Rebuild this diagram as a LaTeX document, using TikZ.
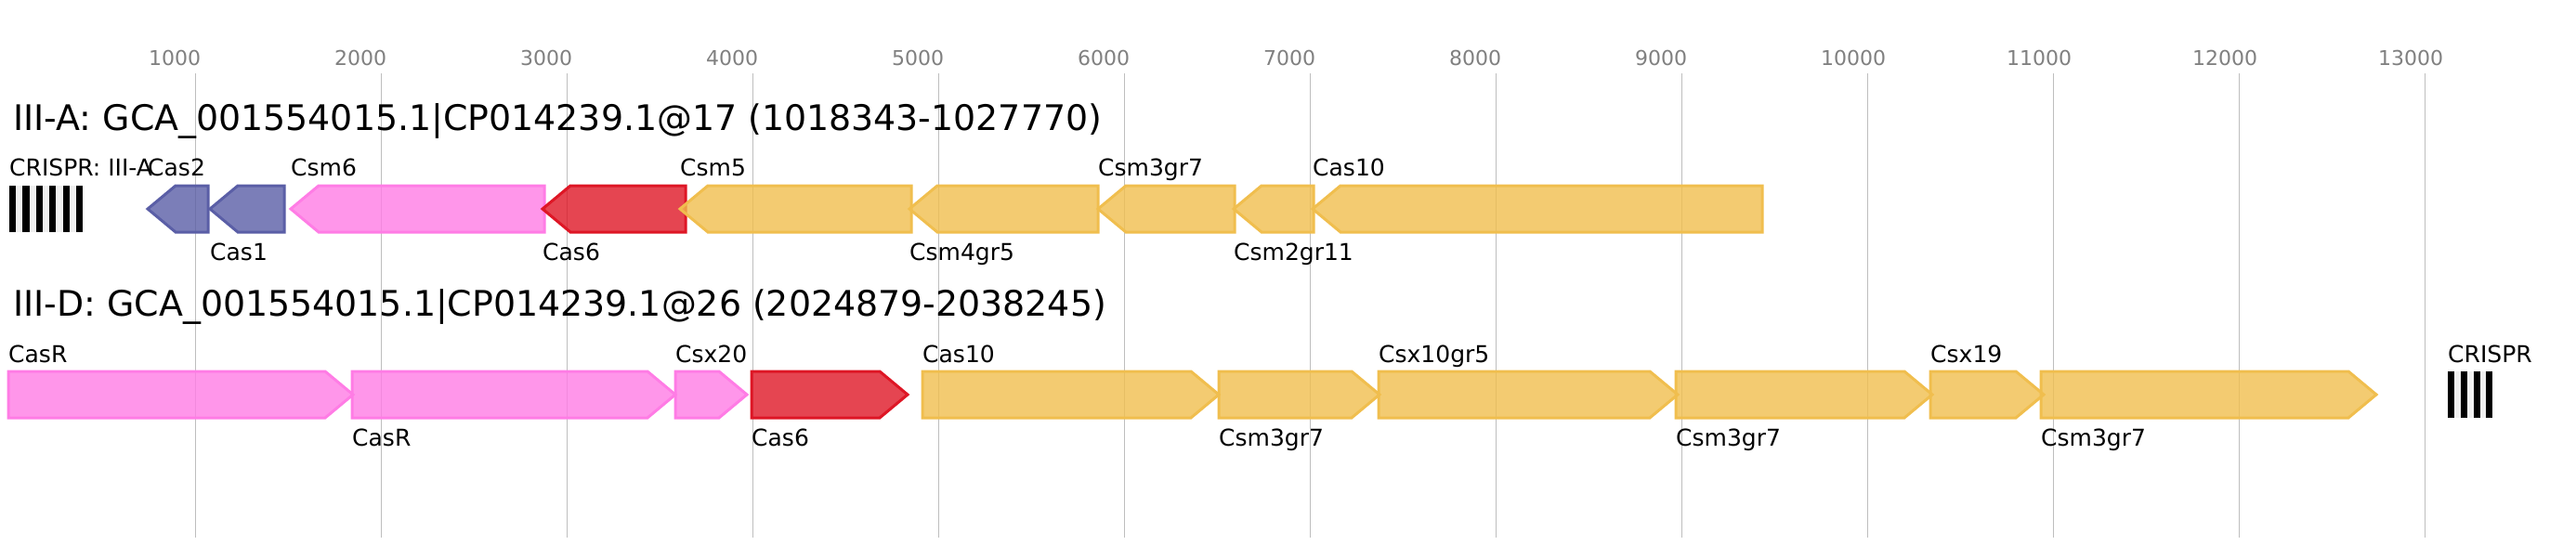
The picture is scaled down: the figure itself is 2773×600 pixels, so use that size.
\documentclass[tikz,border=0pt]{standalone}
\usepackage{fontspec}
\setmainfont{DejaVu Sans}
\definecolor{casblue}{RGB}{90,94,166}
\definecolor{caspink}{RGB}{255,124,229}
\definecolor{casred}{RGB}{222,22,37}
\definecolor{casyel}{RGB}{240,190,78}
\definecolor{gridgray}{RGB}{190,190,190}
\definecolor{tickgray}{RGB}{128,128,128}
\definecolor{spacergray}{RGB}{240,240,240}
\tikzset{
  gene/.style={line width=3pt, fill opacity=0.8, line join=miter},
  genelabel/.style={anchor=base west, inner sep=0pt, font=\fontsize{25}{30}\selectfont},
  locustitle/.style={anchor=base west, inner sep=0pt, font=\fontsize{37.9}{45}\selectfont},
  ticklabel/.style={anchor=base west, inner sep=0pt, text=tickgray, font=\fontsize{22}{26}\selectfont},
  gridline/.style={gridgray, line width=1.8pt},
  repeatbar/.style={fill=black}
}
\begin{document}
\begin{tikzpicture}[x=1pt,y=1pt]
\useasboundingbox (0,0) rectangle (2773,-600);
% scale: 1000 bp = 200 px
\draw [gridline] (210.5,-79) -- (210.5,-579);
\node [ticklabel] (t1000) at (160,-70.7) {1000};
\draw [gridline] (410.5,-79) -- (410.5,-579);
\node [ticklabel] (t2000) at (360,-70.7) {2000};
\draw [gridline] (610.5,-79) -- (610.5,-579);
\node [ticklabel] (t3000) at (560,-70.7) {3000};
\draw [gridline] (810.5,-79) -- (810.5,-579);
\node [ticklabel] (t4000) at (760,-70.7) {4000};
\draw [gridline] (1010.5,-79) -- (1010.5,-579);
\node [ticklabel] (t5000) at (960,-70.7) {5000};
\draw [gridline] (1210.5,-79) -- (1210.5,-579);
\node [ticklabel] (t6000) at (1160,-70.7) {6000};
\draw [gridline] (1410.5,-79) -- (1410.5,-579);
\node [ticklabel] (t7000) at (1360,-70.7) {7000};
\draw [gridline] (1610.5,-79) -- (1610.5,-579);
\node [ticklabel] (t8000) at (1560,-70.7) {8000};
\draw [gridline] (1810.5,-79) -- (1810.5,-579);
\node [ticklabel] (t9000) at (1760,-70.7) {9000};
\draw [gridline] (2010.5,-79) -- (2010.5,-579);
\node [ticklabel] (t10000) at (1960,-70.7) {10000};
\draw [gridline] (2210.5,-79) -- (2210.5,-579);
\node [ticklabel] (t11000) at (2160,-70.7) {11000};
\draw [gridline] (2410.5,-79) -- (2410.5,-579);
\node [ticklabel] (t12000) at (2360,-70.7) {12000};
\draw [gridline] (2610.5,-79) -- (2610.5,-579);
\node [ticklabel] (t13000) at (2560,-70.7) {13000};

% III-A locus
\node [locustitle] (titleA) at (14,-140) {III-A: GCA\_001554015.1|CP014239.1@17 (1018343-1027770)};
\fill [spacergray] (10,-200) rectangle (89.3,-250);
\fill [repeatbar] (10,-200) rectangle (17.2,-250);
\fill [repeatbar] (24.4,-200) rectangle (31.6,-250);
\fill [repeatbar] (38.8,-200) rectangle (46,-250);
\fill [repeatbar] (53.2,-200) rectangle (60.4,-250);
\fill [repeatbar] (67.6,-200) rectangle (74.8,-250);
\fill [repeatbar] (82,-200) rectangle (89.2,-250);
\node [genelabel] (crisprA) at (10,-189.5) {CRISPR: III-A};
\draw [gene, draw=casblue, fill=casblue] (159,-225) -- (189,-200) -- (224,-200) -- (224,-250) -- (189,-250) -- cycle;
\node [genelabel] (cas2A) at (159,-189.5) {Cas2};
\draw [gene, draw=casblue, fill=casblue] (226,-225) -- (256,-200) -- (306,-200) -- (306,-250) -- (256,-250) -- cycle;
\node [genelabel] (cas1A) at (226,-280) {Cas1};
\draw [gene, draw=caspink, fill=caspink] (313,-225) -- (343,-200) -- (586,-200) -- (586,-250) -- (343,-250) -- cycle;
\node [genelabel] (csm6A) at (313,-189.5) {Csm6};
\draw [gene, draw=casred, fill=casred] (584,-225) -- (614,-200) -- (738,-200) -- (738,-250) -- (614,-250) -- cycle;
\node [genelabel] (cas6A) at (584,-280) {Cas6};
\draw [gene, draw=casyel, fill=casyel] (732,-225) -- (762,-200) -- (981,-200) -- (981,-250) -- (762,-250) -- cycle;
\node [genelabel] (csm5A) at (732,-189.5) {Csm5};
\draw [gene, draw=casyel, fill=casyel] (979,-225) -- (1009,-200) -- (1182,-200) -- (1182,-250) -- (1009,-250) -- cycle;
\node [genelabel] (csm4A) at (979,-280) {Csm4gr5};
\draw [gene, draw=casyel, fill=casyel] (1182,-225) -- (1212,-200) -- (1329,-200) -- (1329,-250) -- (1212,-250) -- cycle;
\node [genelabel] (csm3A) at (1182,-189.5) {Csm3gr7};
\draw [gene, draw=casyel, fill=casyel] (1328,-225) -- (1358,-200) -- (1414,-200) -- (1414,-250) -- (1358,-250) -- cycle;
\node [genelabel] (csm2A) at (1328,-280) {Csm2gr11};
\draw [gene, draw=casyel, fill=casyel] (1413,-225) -- (1443,-200) -- (1897,-200) -- (1897,-250) -- (1443,-250) -- cycle;
\node [genelabel] (cas10A) at (1413,-189.5) {Cas10};

% III-D locus
\node [locustitle] (titleD) at (14,-340) {III-D: GCA\_001554015.1|CP014239.1@26 (2024879-2038245)};
\draw [gene, draw=caspink, fill=caspink] (9,-400) -- (350,-400) -- (380,-425) -- (350,-450) -- (9,-450) -- cycle;
\node [genelabel] (casR1D) at (9,-390) {CasR};
\draw [gene, draw=caspink, fill=caspink] (379,-400) -- (697,-400) -- (727,-425) -- (697,-450) -- (379,-450) -- cycle;
\node [genelabel] (casR2D) at (379,-480) {CasR};
\draw [gene, draw=caspink, fill=caspink] (727,-400) -- (774,-400) -- (804,-425) -- (774,-450) -- (727,-450) -- cycle;
\node [genelabel] (csx20D) at (727,-390) {Csx20};
\draw [gene, draw=casred, fill=casred] (809,-400) -- (947,-400) -- (977,-425) -- (947,-450) -- (809,-450) -- cycle;
\node [genelabel] (cas6D) at (809,-480) {Cas6};
\draw [gene, draw=casyel, fill=casyel] (993,-400) -- (1282,-400) -- (1312,-425) -- (1282,-450) -- (993,-450) -- cycle;
\node [genelabel] (cas10D) at (993,-390) {Cas10};
\draw [gene, draw=casyel, fill=casyel] (1312,-400) -- (1455,-400) -- (1485,-425) -- (1455,-450) -- (1312,-450) -- cycle;
\node [genelabel] (csm3aD) at (1312,-480) {Csm3gr7};
\draw [gene, draw=casyel, fill=casyel] (1484,-400) -- (1776,-400) -- (1806,-425) -- (1776,-450) -- (1484,-450) -- cycle;
\node [genelabel] (csx10D) at (1484,-390) {Csx10gr5};
\draw [gene, draw=casyel, fill=casyel] (1804,-400) -- (2050,-400) -- (2080,-425) -- (2050,-450) -- (1804,-450) -- cycle;
\node [genelabel] (csm3bD) at (1804,-480) {Csm3gr7};
\draw [gene, draw=casyel, fill=casyel] (2078,-400) -- (2170,-400) -- (2200,-425) -- (2170,-450) -- (2078,-450) -- cycle;
\node [genelabel] (csx19D) at (2078,-390) {Csx19};
\draw [gene, draw=casyel, fill=casyel] (2197,-400) -- (2528,-400) -- (2558,-425) -- (2528,-450) -- (2197,-450) -- cycle;
\node [genelabel] (csm3cD) at (2197,-480) {Csm3gr7};
\fill [spacergray] (2635,-400) rectangle (2683.3,-450);
\fill [repeatbar] (2635,-400) rectangle (2641.9,-450);
\fill [repeatbar] (2648.8,-400) rectangle (2655.7,-450);
\fill [repeatbar] (2662.6,-400) rectangle (2669.5,-450);
\fill [repeatbar] (2676.4,-400) rectangle (2683.3,-450);
\node [genelabel] (crisprD) at (2635,-390) {CRISPR};
\end{tikzpicture}
\end{document}
